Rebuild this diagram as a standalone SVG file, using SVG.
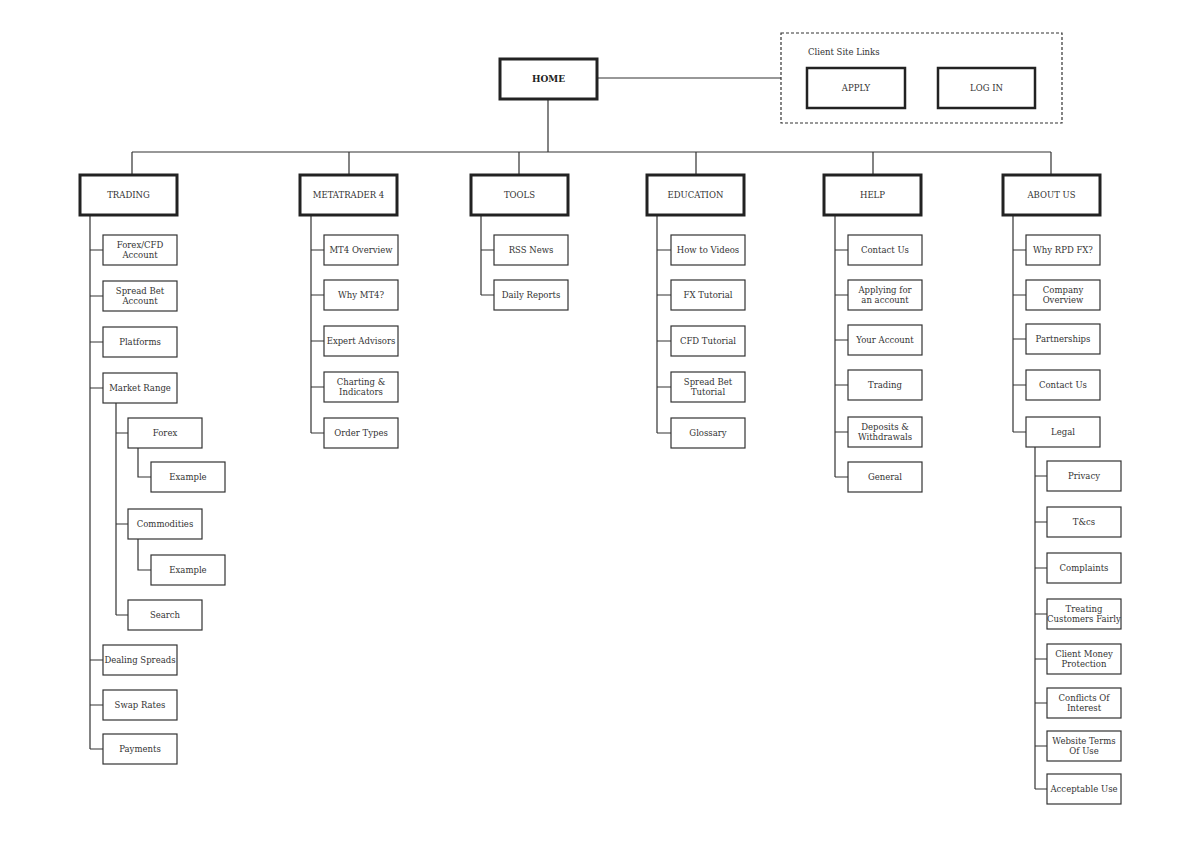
<svg xmlns="http://www.w3.org/2000/svg" width="1200" height="850" viewBox="0 0 1200 850">
<style>
text{font-family:"DejaVu Serif","Liberation Serif",serif;font-size:8.5px;fill:#333;text-anchor:middle;dominant-baseline:central}
.b{font-weight:bold;font-size:9px;fill:#222}
.big rect{fill:#fff;stroke:#222;stroke-width:3}
.sm rect{fill:#fff;stroke:#333;stroke-width:1.2}
#connectors path{fill:none;stroke:#333;stroke-width:1.2}
</style>
<rect width="1200" height="850" fill="#fff"/>
<g id="connectors">
<path d="M597 78H781M548 99V152M132 152H1051M132 152V175M349 152V175M519 152V175M696 152V175M873 152V175M1051 152V175"/>
<path d="M90 215V749M90 250H103M90 296H103M90 342H103M90 388H103M90 660H103M90 705H103M90 749H103"/>
<path d="M116 403V615M116 433H128M116 524H128M116 615H128M138 448V477H151M138 539V570H151"/>
<path d="M311 215V433M311 250H324M311 295H324M311 341H324M311 387H324M311 433H324"/>
<path d="M481 215V295M481 250H494M481 295H494"/>
<path d="M657 215V433M657 250H671M657 295H671M657 341H671M657 387H671M657 433H671"/>
<path d="M835 215V477M835 250H848M835 295H848M835 340H848M835 385H848M835 432H848M835 477H848"/>
<path d="M1013 215V432M1013 250H1026M1013 295H1026M1013 339H1026M1013 385H1026M1013 432H1026"/>
<path d="M1035 447V789M1035 476H1047M1035 522H1047M1035 568H1047M1035 614H1047M1035 659H1047M1035 703H1047M1035 746H1047M1035 789H1047"/>
</g>
<rect x="781" y="33" width="281" height="90" fill="none" stroke="#333" stroke-width="1.2" stroke-dasharray="3,2"/>
<text x="808" y="52" style="text-anchor:start">Client Site Links</text>
<g id="home" class="big"><rect x="500" y="59" width="97" height="40"/><text class="b" x="548.5" y="79">HOME</text></g>
<g id="apply" class="big"><rect x="807" y="68" width="98" height="40" style="stroke-width:2.5"/><text x="856" y="88">APPLY</text></g>
<g id="login" class="big"><rect x="938" y="68" width="97" height="40" style="stroke-width:2.5"/><text x="986.5" y="88">LOG IN</text></g>
<g id="trading" class="big"><rect x="80" y="175" width="97" height="40"/><text x="128.5" y="195">TRADING</text></g>
<g id="mt4" class="big"><rect x="300" y="175" width="97" height="40"/><text x="348.5" y="195">METATRADER 4</text></g>
<g id="tools" class="big"><rect x="471" y="175" width="97" height="40"/><text x="519.5" y="195">TOOLS</text></g>
<g id="education" class="big"><rect x="647" y="175" width="97" height="40"/><text x="695.5" y="195">EDUCATION</text></g>
<g id="help" class="big"><rect x="824" y="175" width="97" height="40"/><text x="872.5" y="195">HELP</text></g>
<g id="about" class="big"><rect x="1003" y="175" width="97" height="40"/><text x="1051.5" y="195">ABOUT US</text></g>
<g class="sm">
<g id="t1"><rect x="103" y="235" width="74" height="30"/><text x="140" y="245">Forex/CFD</text><text x="140" y="255">Account</text></g>
<g id="t2"><rect x="103" y="281" width="74" height="30"/><text x="140" y="291">Spread Bet</text><text x="140" y="301">Account</text></g>
<g id="t3"><rect x="103" y="327" width="74" height="30"/><text x="140" y="342">Platforms</text></g>
<g id="t4"><rect x="103" y="373" width="74" height="30"/><text x="140" y="388">Market Range</text></g>
<g id="t5"><rect x="128" y="418" width="74" height="30"/><text x="165" y="433">Forex</text></g>
<g id="t6"><rect x="151" y="462" width="74" height="30"/><text x="188" y="477">Example</text></g>
<g id="t7"><rect x="128" y="509" width="74" height="30"/><text x="165" y="524">Commodities</text></g>
<g id="t8"><rect x="151" y="555" width="74" height="30"/><text x="188" y="570">Example</text></g>
<g id="t9"><rect x="128" y="600" width="74" height="30"/><text x="165" y="615">Search</text></g>
<g id="t10"><rect x="103" y="645" width="74" height="30"/><text x="140" y="660">Dealing Spreads</text></g>
<g id="t11"><rect x="103" y="690" width="74" height="30"/><text x="140" y="705">Swap Rates</text></g>
<g id="t12"><rect x="103" y="734" width="74" height="30"/><text x="140" y="749">Payments</text></g>
<g id="m1"><rect x="324" y="235" width="74" height="30"/><text x="361" y="250">MT4 Overview</text></g>
<g id="m2"><rect x="324" y="280" width="74" height="30"/><text x="361" y="295">Why MT4?</text></g>
<g id="m3"><rect x="324" y="326" width="74" height="30"/><text x="361" y="341">Expert Advisors</text></g>
<g id="m4"><rect x="324" y="372" width="74" height="30"/><text x="361" y="382">Charting &amp;</text><text x="361" y="392">Indicators</text></g>
<g id="m5"><rect x="324" y="418" width="74" height="30"/><text x="361" y="433">Order Types</text></g>
<g id="o1"><rect x="494" y="235" width="74" height="30"/><text x="531" y="250">RSS News</text></g>
<g id="o2"><rect x="494" y="280" width="74" height="30"/><text x="531" y="295">Daily Reports</text></g>
<g id="e1"><rect x="671" y="235" width="74" height="30"/><text x="708" y="250">How to Videos</text></g>
<g id="e2"><rect x="671" y="280" width="74" height="30"/><text x="708" y="295">FX Tutorial</text></g>
<g id="e3"><rect x="671" y="326" width="74" height="30"/><text x="708" y="341">CFD Tutorial</text></g>
<g id="e4"><rect x="671" y="372" width="74" height="30"/><text x="708" y="382">Spread Bet</text><text x="708" y="392">Tutorial</text></g>
<g id="e5"><rect x="671" y="418" width="74" height="30"/><text x="708" y="433">Glossary</text></g>
<g id="h1"><rect x="848" y="235" width="74" height="30"/><text x="885" y="250">Contact Us</text></g>
<g id="h2"><rect x="848" y="280" width="74" height="30"/><text x="885" y="290">Applying for</text><text x="885" y="300">an account</text></g>
<g id="h3"><rect x="848" y="325" width="74" height="30"/><text x="885" y="340">Your Account</text></g>
<g id="h4"><rect x="848" y="370" width="74" height="30"/><text x="885" y="385">Trading</text></g>
<g id="h5"><rect x="848" y="417" width="74" height="30"/><text x="885" y="427">Deposits &amp;</text><text x="885" y="437">Withdrawals</text></g>
<g id="h6"><rect x="848" y="462" width="74" height="30"/><text x="885" y="477">General</text></g>
<g id="a1"><rect x="1026" y="235" width="74" height="30"/><text x="1063" y="250">Why RPD FX?</text></g>
<g id="a2"><rect x="1026" y="280" width="74" height="30"/><text x="1063" y="290">Company</text><text x="1063" y="300">Overview</text></g>
<g id="a3"><rect x="1026" y="324" width="74" height="30"/><text x="1063" y="339">Partnerships</text></g>
<g id="a4"><rect x="1026" y="370" width="74" height="30"/><text x="1063" y="385">Contact Us</text></g>
<g id="a5"><rect x="1026" y="417" width="74" height="30"/><text x="1063" y="432">Legal</text></g>
<g id="l1"><rect x="1047" y="461" width="74" height="30"/><text x="1084" y="476">Privacy</text></g>
<g id="l2"><rect x="1047" y="507" width="74" height="30"/><text x="1084" y="522">T&amp;cs</text></g>
<g id="l3"><rect x="1047" y="553" width="74" height="30"/><text x="1084" y="568">Complaints</text></g>
<g id="l4"><rect x="1047" y="599" width="74" height="30"/><text x="1084" y="609">Treating</text><text x="1084" y="619">Customers Fairly</text></g>
<g id="l5"><rect x="1047" y="644" width="74" height="30"/><text x="1084" y="654">Client Money</text><text x="1084" y="664">Protection</text></g>
<g id="l6"><rect x="1047" y="688" width="74" height="30"/><text x="1084" y="698">Conflicts Of</text><text x="1084" y="708">Interest</text></g>
<g id="l7"><rect x="1047" y="731" width="74" height="30"/><text x="1084" y="741">Website Terms</text><text x="1084" y="751">Of Use</text></g>
<g id="l8"><rect x="1047" y="774" width="74" height="30"/><text x="1084" y="789">Acceptable Use</text></g>
</g>
</svg>
